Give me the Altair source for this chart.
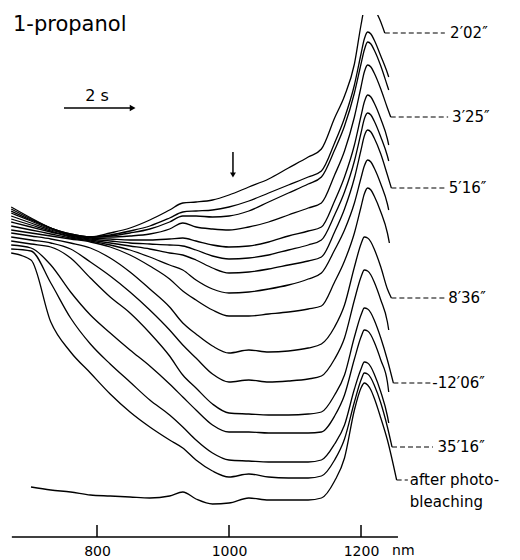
import altair as alt
import pandas as pd

# ---- data ---------------------------------------------------------------
wavelength_nm = [670, 700, 730, 760, 790, 820, 850, 880, 910, 930, 950, 975, 1000,
                 1030, 1060, 1090, 1120, 1140, 1160, 1175, 1190, 1200, 1205, 1210,
                 1215, 1220, 1230, 1240]

# trace readings: depth below the figure frame top (arbitrary units, 100 = 1 A unit)
t01 = [207, 218, 228, 235, 237, 233, 228, 220, 210, 203, 202, 200, 195, 187, 179, 168, 157, 149, 118, 96, 64, 25, 8, 1, 2, 8, 22, None]
t02 = [209, 219, 228, 234, 237, 235, 231, 226, 218, 212, 211, 210, 207, 201, 193, 185, 177, 171, 143, 118, 85, 54, 39, 32, 34, 40, 56, 73]
t03 = [211, 220, 228, 234, 237, 236, 233, 229, 222, 216, 216, 217, 216, 211, 202, 193, 184, 177, 150, 126, 93, 64, 50, 42, 44, 50, 66, 86]
t04 = [213, 221, 229, 235, 237, 237, 236, 234, 229, 223, 227, 229, 230, 227, 222, 215, 208, 203, 175, 151, 117, 87, 72, 65, 67, 73, 89, 108]
t05 = [216, 223, 230, 235, 238, 239, 240, 240, 239, 238, 241, 245, 247, 246, 242, 236, 231, 227, 201, 177, 145, 116, 102, 95, 97, 103, 119, 139]
t06 = [219, 225, 231, 236, 239, 241, 243, 244, 245, 246, 250, 256, 259, 258, 255, 250, 245, 240, 215, 192, 161, 133, 119, 113, 115, 121, 137, 156]
t07 = [222, 227, 232, 237, 240, 243, 246, 249, 253, 255, 260, 268, 273, 272, 269, 265, 261, 257, 232, 209, 178, 150, 136, 130, 132, 138, 154, 175]
t08 = [226, 230, 234, 238, 241, 245, 250, 257, 265, 270, 280, 289, 293, 292, 289, 285, 279, 273, 250, 230, 203, 178, 166, 160, 162, 168, 184, 204]
t09 = [230, 233, 236, 239, 242, 247, 255, 266, 279, 291, 300, 310, 316, 316, 314, 312, 309, 306, 282, 261, 233, 207, 194, 188, 190, 196, 212, 233]
t10 = [233, 236, 239, 243, 248, 258, 272, 289, 307, 323, 334, 346, 353, 350, 352, 351, 348, 344, 327, 305, 267, 244, 237, 238, 242, 249, 267, 289]
t11 = [237, 240, 243, 249, 262, 276, 292, 310, 330, 345, 358, 374, 382, 380, 382, 381, 379, 376, 359, 338, 300, 277, 270, 271, 275, 282, 300, 322]
t12 = [241, 244, 247, 258, 278, 297, 313, 333, 356, 375, 388, 404, 413, 414, 415, 415, 414, 412, 395, 375, 337, 315, 308, 309, 313, 320, 338, 360]
t13 = [245, 248, 265, 292, 315, 333, 350, 366, 384, 397, 410, 425, 432, 432, 433, 433, 433, 432, 416, 395, 359, 337, 330, 331, 335, 342, 360, 382]
t14 = [249, 251, 283, 318, 344, 364, 382, 400, 415, 427, 440, 453, 460, 461, 462, 462, 462, 460, 444, 425, 389, 369, 362, 363, 367, 374, 392, 416]
t15 = [253, 260, 322, 352, 373, 394, 412, 427, 440, 448, 460, 471, 477, 474, 477, 478, 478, 476, 460, 439, 402, 380, 373, 374, 378, 385, 403, 427]
t16 = [None, 487, 490, 492, 495, 496, 497, 498, 496, 492, 499, 504, 503, 498, 500, 500, 500, 498, 481, 458, 410, 388, 383, 385, 390, 398, 418, 440]

series_values = [t01, t02, t03, t04, t05, t06, t07, t08, t09, t10, t11, t12, t13, t14, t15, t16]
series_names = [f"trace {i + 1:02d}" for i in range(len(series_values))]

# last recorded point of each trace
end_nm = [1236, 1242, 1242, 1245, 1242, 1242, 1246, 1242, 1243, 1246, 1242, 1249, 1242, 1242, 1247, 1254]
end_depth = [33, 77, 90, 117, 145, 161, 188, 210, 243, 298, 330, 383, 392, 423, 447, 480]

# time labels
label_text = ["2′02″", "3′25″", "5′16″", "8′36″", "-12′06″", "35′16″", "after photo-"]
label_trace = [0, 3, 6, 9, 11, 14, 15]
leader_to_nm = [1327, 1332, 1327, 1330, 1307, 1309, 1271]
label_nm = [1335, 1338, 1333, 1332, 1308, 1316, 1274]

tick_nm = [800, 1000, 1200]
axis_span_nm = [671, 1256]

FRAME = 537.0  # depth of the x axis line


def to_abs(v):
    return (FRAME - v) / 100.0


rows = []
for name, vals, enm, ev in zip(series_names, series_values, end_nm, end_depth):
    for wl, v in zip(wavelength_nm, vals):
        if v is not None:
            rows.append({"series": name, "nm": wl, "A": to_abs(v)})
    rows.append({"series": name, "nm": enm, "A": to_abs(ev)})
traces = pd.DataFrame(rows)

lead_rows = []
for txt, ti, lto, lnm in zip(label_text, label_trace, leader_to_nm, label_nm):
    lead_rows.append({"nm": end_nm[ti], "nm2": lto, "A": to_abs(end_depth[ti]),
                      "label": txt, "tx": lnm})
leaders = pd.DataFrame(lead_rows)
extra = pd.DataFrame([{"tx": label_nm[-1], "A": to_abs(end_depth[-1]) - 0.22, "label": "bleaching"}])
label_df = pd.concat([leaders[["tx", "A", "label"]], extra], ignore_index=True)

# ---- chart ---------------------------------------------------------------
FONT = "DejaVu Sans"
xs = alt.Scale(domain=[653.03, 1440.9], nice=False, zero=False)
ys = alt.Scale(domain=[0, 5.22], nice=False, zero=False)
xaxis = alt.Axis(values=tick_nm, format="d", domain=False, ticks=False, grid=False, labelFontSize=14,
                 labelFont=FONT, labelColor="black", labelPadding=7, title=None)


def X(f):
    return alt.X(f, type="quantitative", scale=xs, axis=xaxis, title=None)


def Y(f):
    return alt.Y(f, type="quantitative", scale=ys, axis=None, title=None)


lines = alt.Chart(traces).mark_line(
    interpolate="monotone", color="black", strokeWidth=1.3, clip=True
).encode(x=X("nm"), y=Y("A"), detail="series:N")

axis_line = alt.Chart(pd.DataFrame({"nm": [axis_span_nm[0]], "nm2": [axis_span_nm[1]], "A": [0.0]})).mark_rule(
    color="black", strokeWidth=1.5
).encode(x=X("nm"), x2="nm2:Q", y=Y("A"))

ticks = alt.Chart(pd.DataFrame({"nm": tick_nm, "A": [0.0] * 3, "A2": [0.12] * 3})).mark_rule(
    color="black", strokeWidth=1.5
).encode(x=X("nm"), y=Y("A"), y2="A2:Q")

nm_text = alt.Chart(pd.DataFrame({"nm": [1247], "A": [-0.07], "t": ["nm"]})).mark_text(
    align="left", baseline="top", font=FONT, fontSize=14, color="black"
).encode(x=X("nm"), y=Y("A"), text="t:N")

leader_rules = alt.Chart(leaders).mark_rule(
    color="black", strokeWidth=1.1, strokeDash=[5, 3]
).encode(x=X("nm"), x2="nm2:Q", y=Y("A"))

label_marks = alt.Chart(label_df).mark_text(
    align="left", baseline="middle", font=FONT, fontSize=15, color="black"
).encode(x=X("tx"), y=Y("A"), text="label:N")

title = alt.Chart(pd.DataFrame({"nm": [672.7], "A": [5.06], "t": ["1-propanol"]})).mark_text(
    align="left", baseline="alphabetic", font=FONT, fontSize=21, color="black"
).encode(x=X("nm"), y=Y("A"), text="t:N")

# 2 s time-scale arrow
arrow_line = alt.Chart(pd.DataFrame({"nm": [750.0], "nm2": [852.0], "A": [4.29]})).mark_rule(
    color="black", strokeWidth=1.5
).encode(x=X("nm"), x2="nm2:Q", y=Y("A"))
arrow_head = alt.Chart(pd.DataFrame({"nm": [854.0], "A": [4.29]})).mark_point(
    shape="triangle-right", filled=True, size=45, color="black", opacity=1
).encode(x=X("nm"), y=Y("A"))
arrow_text = alt.Chart(pd.DataFrame({"nm": [800.0], "A": [4.41], "t": ["2 s"]})).mark_text(
    align="center", baseline="middle", font=FONT, fontSize=16, color="black"
).encode(x=X("nm"), y=Y("A"), text="t:N")

# vertical marker arrow
down_line = alt.Chart(pd.DataFrame({"nm": [1006.0], "A": [3.85], "A2": [3.64]})).mark_rule(
    color="black", strokeWidth=1.5
).encode(x=X("nm"), y=Y("A"), y2="A2:Q")
down_head = alt.Chart(pd.DataFrame({"nm": [1006.0], "A": [3.62]})).mark_point(
    shape="triangle-down", filled=True, size=35, color="black", opacity=1
).encode(x=X("nm"), y=Y("A"))

chart = alt.layer(
    lines, axis_line, ticks, nm_text, leader_rules, label_marks, title,
    arrow_line, arrow_head, arrow_text, down_line, down_head
).properties(
    width=520, height=522,
    padding={"left": 0, "top": 15, "right": 0, "bottom": 23},
    autosize=alt.AutoSizeParams(type="none"),
    background="white",
).configure_view(stroke=None)

chart.save("out.html", embed_options={"renderer": "svg", "actions": False})
